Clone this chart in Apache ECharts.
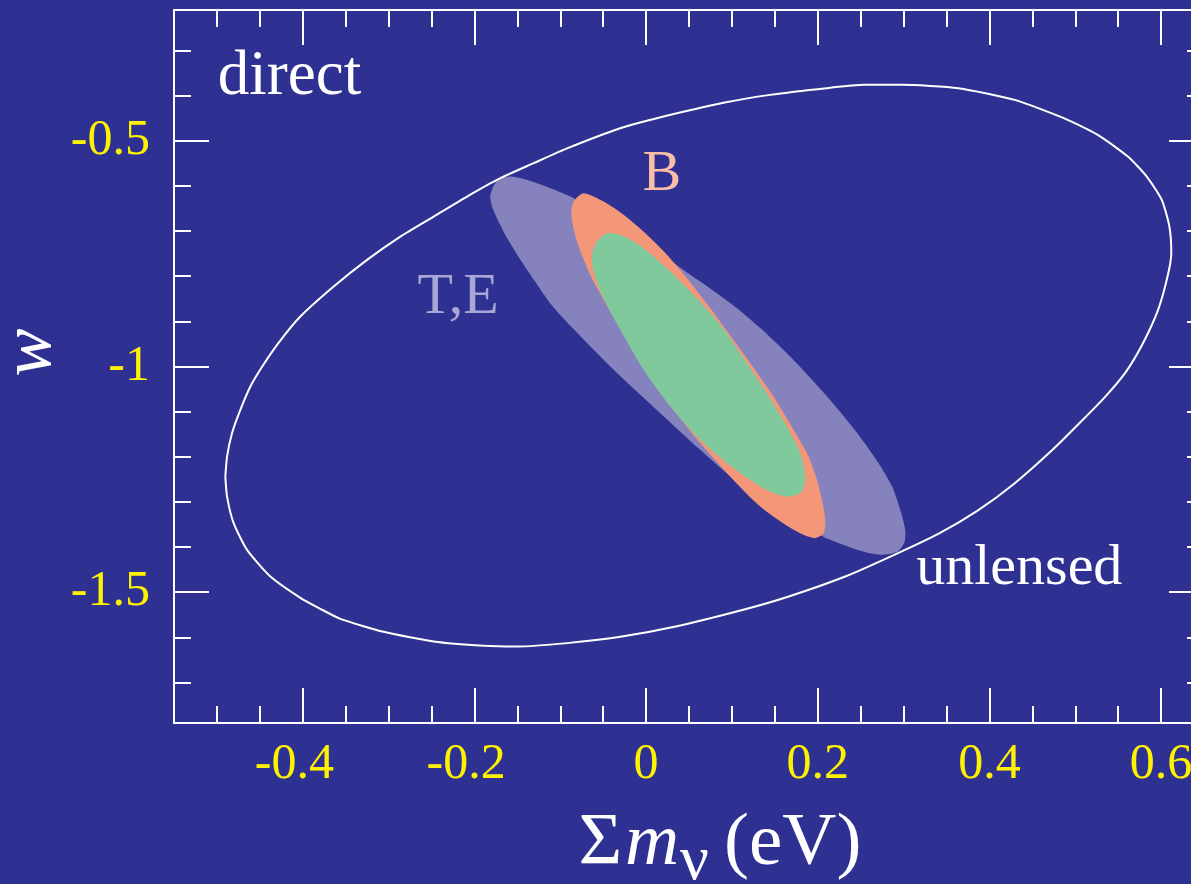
<!DOCTYPE html>
<html><head><meta charset="utf-8">
<script src="https://cdn.jsdelivr.net/npm/echarts@6.0.0/dist/echarts.min.js"></script>
<style>html,body{margin:0;padding:0;background:#2E3192;}#c{width:1191px;height:884px;}</style>
</head><body><div id="c"></div>
<script>
// ---- tick values / labels ----
const xTickVals = [-0.5,-0.45,-0.4,-0.35,-0.3,-0.25,-0.2,-0.15,-0.1,-0.05,0,0.05,0.1,0.15,0.2,0.25,0.3,0.35,0.4,0.45,0.5,0.55,0.6];
const xMajorVals = [-0.4,-0.2,0,0.2,0.4,0.6];
const yTickVals = [-1.7,-1.6,-1.5,-1.4,-1.3,-1.2,-1.1,-1.0,-0.9,-0.8,-0.7,-0.6,-0.5,-0.4,-0.3];
const yMajorVals = [-1.5,-1.0,-0.5];

// ---- unlensed (white outline) ----
const unlensedX = [-0.4902,-0.4882,-0.4824,-0.4727,-0.4610,-0.4459,-0.4273,-0.4028,-0.3640,-0.3251,-0.2863,-0.2475,-0.2086,-0.1698,-0.1310,-0.0921,-0.0301,0.0125,0.0916,0.1442,0.2101,0.2540,0.2978,0.3638,0.4296,0.4867,0.5262,0.5613,0.5833,0.6008,0.6097,0.6119,0.6075,0.5965,0.5789,0.5582,0.5337,0.5087,0.4735,0.4296,0.3858,0.3404,0.2891,0.2320,0.1662,0.1132,0.0345,-0.0301,-0.0921,-0.1504,-0.1893,-0.2475,-0.3058,-0.3562,-0.3795,-0.4028,-0.4377,-0.4649,-0.4805,-0.4882];
const unlensedY = [-1.2439,-1.1995,-1.1477,-1.0961,-1.0444,-0.9963,-0.9454,-0.8893,-0.8228,-0.7637,-0.7121,-0.6677,-0.6234,-0.5827,-0.5494,-0.5166,-0.4719,-0.4497,-0.4151,-0.3981,-0.3832,-0.3759,-0.3759,-0.3832,-0.4092,-0.4497,-0.4867,-0.5348,-0.5791,-0.6307,-0.6899,-0.7488,-0.8007,-0.8745,-0.9483,-1.0141,-1.0695,-1.1182,-1.1847,-1.2585,-1.3198,-1.3708,-1.4173,-1.4654,-1.5097,-1.5392,-1.5762,-1.5990,-1.6130,-1.6205,-1.6190,-1.6095,-1.5880,-1.5592,-1.5370,-1.5126,-1.4654,-1.4063,-1.3471,-1.2882];

// ---- T,E region ----
const teX = [-0.1582,-0.1271,-0.0883,-0.0301,0.0243,0.0670,0.1059,0.1354,0.1715,0.2111,0.2448,0.2705,0.2868,0.2961,0.3019,0.3008,0.2926,0.2728,0.2495,0.2064,0.1680,0.0942,0.0631,0.0165,-0.0417,-0.0860,-0.1104,-0.1291,-0.1477,-0.1652,-0.1780,-0.1815,-0.1745];
const teY = [-0.5791,-0.5937,-0.6234,-0.6839,-0.7599,-0.8169,-0.8707,-0.9188,-0.9853,-1.0672,-1.1448,-1.2135,-1.2667,-1.3176,-1.3620,-1.3908,-1.4107,-1.4173,-1.4085,-1.3775,-1.3354,-1.2363,-1.1847,-1.1034,-1.0001,-0.9144,-0.8634,-0.8124,-0.7593,-0.7039,-0.6529,-0.6219,-0.5908];

// ---- B region ----
const bX = [-0.0728,-0.0495,-0.0262,0.0010,0.0243,0.0476,0.0748,0.0957,0.1214,0.1485,0.1718,0.1893,0.1991,0.2049,0.2087,0.2068,0.1951,0.1718,0.1330,0.0942,0.0631,0.0282,0.0087,-0.0184,-0.0417,-0.0650,-0.0805,-0.0871,-0.0844];
const bY = [-0.6159,-0.6345,-0.6640,-0.7083,-0.7526,-0.8042,-0.8707,-0.9254,-0.9926,-1.0666,-1.1404,-1.1995,-1.2512,-1.2955,-1.3398,-1.3693,-1.3803,-1.3620,-1.3103,-1.2363,-1.1698,-1.0872,-1.0334,-0.9520,-0.8782,-0.7969,-0.7231,-0.6640,-0.6345];

// ---- combined (green) region ----
const allX = [-0.0455,-0.0301,-0.0029,0.0282,0.0593,0.0864,0.1175,0.1408,0.1641,0.1796,0.1854,0.1816,0.1680,0.1485,0.1330,0.0942,0.0631,0.0282,-0.0029,-0.0301,-0.0495,-0.0612,-0.0630,-0.0572];
const allY = [-0.7045,-0.7083,-0.7378,-0.7896,-0.8486,-0.9077,-0.9926,-1.0591,-1.1331,-1.1920,-1.2438,-1.2771,-1.2882,-1.2806,-1.2660,-1.2142,-1.1625,-1.0887,-1.0074,-0.9188,-0.8486,-0.7896,-0.7526,-0.7231];

// ---- annotations ----
const annoText = ['direct','B','T,E','unlensed'];
const annoX = [-0.4990,-0.0041,-0.2662,0.3147];
const annoY = [-0.3590,-0.5762,-0.8472,-1.4477];
const annoColor = ['#FFFFFF','#F9BEA5','#A9A6D6','#FFFFFF'];
const annoSize = [63,58,58,58];

const FONT = '"Liberation Serif", "Times New Roman", serif';
const YEL = '#FFF200';
const BG = '#2E3192';

function fmtX(v){ const r = Math.round(v*10)/10; return r === 0 ? '0' : String(r); }

function xAx(pos, ticks, len, line, labels){
  return {
    type:'value', position:pos, gridIndex:0, min:-0.55, max:0.65,
    axisLine:{show:line, onZero:false, lineStyle:{color:'#fff', width:2}},
    axisTick:{show:true, inside:true, length:len, customValues:ticks, lineStyle:{color:'#fff', width:2}},
    axisLabel: labels ? {
      show:true, customValues:xMajorVals, margin:17, hideOverlap:false,
      fontSize:50, fontFamily:FONT, color:YEL,
      formatter:function(v){ const s = fmtX(v); return v < -1e-9 ? '{n|'+s+'}{h|-}' : '{n|'+s+'}'; },
      rich:{ n:{fontSize:50, fontFamily:FONT, color:YEL}, h:{fontSize:50, fontFamily:FONT, color:'rgba(0,0,0,0)'} }
    } : {show:false},
    splitLine:{show:false}
  };
}
function yAx(pos, ticks, len, line, labels){
  return {
    type:'value', position:pos, gridIndex:0, min:-1.79, max:-0.21,
    axisLine:{show:line, onZero:false, lineStyle:{color:'#fff', width:2}},
    axisTick:{show:true, inside:true, length:len, customValues:ticks, lineStyle:{color:'#fff', width:2}},
    axisLabel: labels ? {
      show:true, customValues:yMajorVals, margin:24,
      fontSize:50, fontFamily:FONT, color:YEL,
      formatter:function(v){ return String(Math.round(v*10)/10); }
    } : {show:false},
    splitLine:{show:false}
  };
}

function poly(name, xs, ys, color){
  return {
    type:'custom', name:name, xAxisIndex:0, yAxisIndex:0, silent:true, clip:false,
    data: xs.map(function(x,i){ return [x, ys[i]]; }),
    renderItem:function(params, api){
      if (params.dataIndex !== 0) return {type:'group', children:[]};
      const pts = xs.map(function(x,i){ return api.coord([x, ys[i]]); });
      return {type:'polygon', shape:{points:pts, smooth:0.25}, style:{fill:color, stroke:null}};
    }
  };
}

const chart = echarts.init(document.getElementById('c'), null, {renderer:'canvas'});
chart.setOption({
  animation:false,
  backgroundColor:BG,
  grid:{left:174, top:10, width:1030, height:713, containLabel:false, outerBoundsMode:'none', show:false},
  xAxis:[
    xAx('bottom', xTickVals, 17, true, true),
    xAx('bottom', xMajorVals, 35, false, false),
    xAx('top', xTickVals, 17, true, false),
    xAx('top', xMajorVals, 35, false, false)
  ],
  yAxis:[
    yAx('left', yTickVals, 17, true, true),
    yAx('left', yMajorVals, 35, false, false),
    yAx('right', yTickVals, 17, true, false),
    yAx('right', yMajorVals, 35, false, false)
  ],
  series:[
    poly('T,E', teX, teY, '#8682BD'),
    poly('B', bX, bY, '#F49678'),
    poly('T,E,B', allX, allY, '#80C99D'),
    {
      type:'line', name:'unlensed', xAxisIndex:0, yAxisIndex:0, silent:true,
      data: unlensedX.concat([unlensedX[0]]).map(function(x,i){ return [x, unlensedY.concat([unlensedY[0]])[i]]; }),
      showSymbol:false, smooth:0.2, clip:false,
      lineStyle:{color:'#FFFFFF', width:2}, z:5
    },
    {
      type:'scatter', name:'annotations', xAxisIndex:0, yAxisIndex:0, silent:true,
      symbolSize:0, itemStyle:{color:'rgba(0,0,0,0)', opacity:1}, z:6,
      data: annoText.map(function(t,i){
        return {value:[annoX[i], annoY[i]], name:t,
          label:{show:true, position:'right', distance:0, formatter:t, opacity:1,
                 fontSize:annoSize[i], fontFamily:FONT, color:annoColor[i]}};
      })
    }
  ],
  graphic:[
    {type:'text', x:578.5, y:844.7, style:{text:'\u03A3', font:'75px '+FONT, fill:'#fff', align:'left', verticalAlign:'middle'}},
    {type:'text', x:625, y:844.7, style:{text:'m', font:'italic 75px '+FONT, fill:'#fff', align:'left', verticalAlign:'middle'}},
    {type:'text', x:680, y:862.4, style:{text:'\u03BD', font:'64px '+FONT, fill:'#fff', align:'left', verticalAlign:'middle'}},
    {type:'text', x:724, y:844.7, style:{text:'(eV)', font:'75px '+FONT, fill:'#fff', align:'left', verticalAlign:'middle'}},
    {type:'text', x:31, y:352.5, rotation:Math.PI/2, style:{text:'w', font:'italic 72px '+FONT, fill:'#fff', align:'center', verticalAlign:'middle'}}
  ]
});
</script>
</body></html>
